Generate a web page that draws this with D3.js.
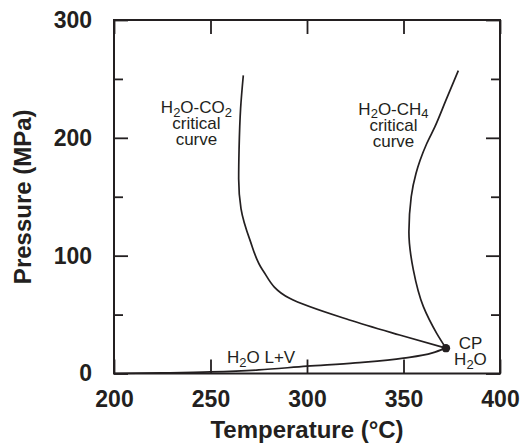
<!DOCTYPE html>
<html>
<head>
<meta charset="utf-8">
<script src="https://cdn.jsdelivr.net/npm/d3@7/dist/d3.min.js"></script>
<style>
  body { margin: 0; background: #fff; }
  text { font-family: "Liberation Sans", Arial, sans-serif; fill: #231f20; }
</style>
</head>
<body>
<div class="page"></div>
<script>
// H2O liquid + vapour curve (boiling curve)
var lvT = [200, 225, 250, 275, 300, 325, 350, 365, 372];
var lvP = [0, 0.5, 1.3, 3, 6.2, 9, 13, 17.5, 21.5];

// H2O-CO2 critical curve
var co2T = [372, 348, 322, 291, 277, 270.5, 265.8, 264.6, 264.8, 265.6, 267];
var co2P = [21.5, 32.7, 45.4, 63.8, 87.9, 113, 140, 165, 190, 225, 253];

// H2O-CH4 critical curve
var ch4T = [372, 367.2, 360.3, 355.1, 352.8, 354, 356.5, 358.6, 362, 366.3, 372, 378.4];
var ch4P = [21.5, 34.1, 56.7, 87.9, 120, 150, 170, 181, 195, 209.5, 232, 257];

// critical point of water
var cpT = [372];
var cpP = [21.5];

var xTicks = [200, 250, 300, 350, 400];
var yTicks = [0, 100, 200, 300];
var yMinor = [50, 150, 250];

var container_dim = {width: 526, height: 445},
    margins = {top: 20, right: 26, bottom: 71.5, left: 114},
    chart_dim = {
      width: container_dim.width - margins.left - margins.right,
      height: container_dim.height - margins.top - margins.bottom
    };

var xScale = d3.scaleLinear().domain([200, 400]).range([0, chart_dim.width]);
var yScale = d3.scaleLinear().domain([0, 300]).range([chart_dim.height, 0]);

var svg = d3.select('.page').append('svg')
  .attr('width', container_dim.width)
  .attr('height', container_dim.height);

var plot = svg.append('g')
  .attr('transform', 'translate(' + margins.left + ',' + margins.top + ')');

function zip(a, b) { return a.map(function(v, i) { return [v, b[i]]; }); }

// axes: ticks point inward
var xAxis = d3.axisBottom(xScale).tickValues(xTicks).tickSizeInner(-14).tickSizeOuter(0).tickPadding(17);
var xTop = d3.axisTop(xScale).tickValues(xTicks).tickSizeInner(-14).tickSizeOuter(0).tickFormat('');
var yAxis = d3.axisLeft(yScale).tickValues(yTicks).tickSizeInner(-14).tickSizeOuter(0).tickPadding(22);
var yRight = d3.axisRight(yScale).tickValues(yTicks).tickSizeInner(-14).tickSizeOuter(0).tickFormat('');
var yMinL = d3.axisLeft(yScale).tickValues(yMinor).tickSizeInner(-9).tickSizeOuter(0).tickFormat('');
var yMinR = d3.axisRight(yScale).tickValues(yMinor).tickSizeInner(-9).tickSizeOuter(0).tickFormat('');

plot.append('g').attr('transform', 'translate(0,' + chart_dim.height + ')').call(xAxis);
plot.append('g').call(xTop);
plot.append('g').call(yAxis);
plot.append('g').call(yMinL);
plot.append('g').attr('transform', 'translate(' + chart_dim.width + ',0)').call(yRight);
plot.append('g').attr('transform', 'translate(' + chart_dim.width + ',0)').call(yMinR);

plot.selectAll('.domain').remove();
plot.selectAll('.tick line').attr('stroke', '#231f20').attr('stroke-width', 1.8);
plot.selectAll('.tick text')
  .style('font-size', '23px')
  .style('font-weight', 'bold')
  .style('font-family', '"Liberation Sans", Arial, sans-serif')
  .attr('fill', '#231f20');

plot.append('rect')
  .attr('width', chart_dim.width)
  .attr('height', chart_dim.height)
  .attr('fill', 'none')
  .attr('stroke', '#231f20')
  .attr('stroke-width', 2);

// curves
var lineX = d3.line()
  .x(function(d) { return xScale(d[0]); })
  .y(function(d) { return yScale(d[1]); })
  .curve(d3.curveMonotoneX);
var lineY = d3.line()
  .x(function(d) { return xScale(d[0]); })
  .y(function(d) { return yScale(d[1]); })
  .curve(d3.curveMonotoneY);

[lineX(zip(lvT, lvP)), lineY(zip(co2T, co2P)), lineY(zip(ch4T, ch4P))].forEach(function(path) {
  plot.append('path')
    .attr('d', path)
    .attr('fill', 'none')
    .attr('stroke', '#231f20')
    .attr('stroke-width', 1.7);
});

plot.selectAll('circle').data(zip(cpT, cpP))
  .enter()
  .append('circle')
  .attr('cx', function(d) { return xScale(d[0]); })
  .attr('cy', function(d) { return yScale(d[1]); })
  .attr('r', 4.2)
  .attr('fill', '#231f20');

// annotations, [text, subscript, text, subscript ...]
function formula(g, parts, size) {
  var t = g.append('text').style('font-size', size + 'px');
  parts.forEach(function(p, i) {
    if (i % 2 === 1) {
      t.append('tspan').text(p).attr('dy', 3.5).style('font-size', (size - 4) + 'px');
    } else {
      t.append('tspan').text(p).attr('dy', i > 0 ? -3.5 : 0);
    }
  });
  return t;
}

function note(tx, py, lines) {
  var g = plot.append('g').attr('transform', 'translate(' + xScale(tx) + ',' + yScale(py) + ')');
  lines.forEach(function(parts, i) {
    formula(g, parts, 17)
      .attr('y', 16 * i)
      .attr('text-anchor', 'middle');
  });
}

note(242.7, 221, [['H', '2', 'O-CO', '2'], ['critical'], ['curve']]);
note(344.8, 219.5, [['H', '2', 'O-CH', '4'], ['critical'], ['curve']]);
note(276.2, 8.6, [['H', '2', 'O L+V']]);
note(384.7, 20.5, [['CP'], ['H', '2', 'O']]);

// axis titles
svg.append('text')
  .text('Temperature (°C)')
  .attr('x', margins.left + chart_dim.width / 2)
  .attr('y', 438)
  .attr('text-anchor', 'middle')
  .style('font-size', '24px')
  .style('font-weight', 'bold');

svg.append('text')
  .text('Pressure (MPa)')
  .attr('transform', 'translate(31,' + (margins.top + chart_dim.height / 2) + ') rotate(-90)')
  .attr('text-anchor', 'middle')
  .style('font-size', '24px')
  .style('font-weight', 'bold');
</script>
</body>
</html>
